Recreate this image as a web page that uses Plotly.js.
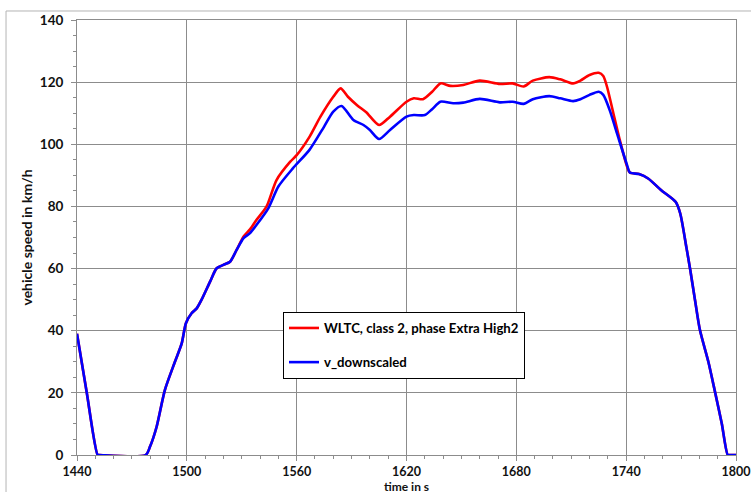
<!DOCTYPE html>
<html>
<head>
<meta charset="utf-8">
<script src="https://cdn.plot.ly/plotly-3.0.1.min.js"></script>
<style>html,body{margin:0;padding:0;background:#fff;}#chart{width:751px;height:492px;}</style>
</head>
<body>
<div id="chart"></div>
<script>
// shared start: end of previous phase, stop, first acceleration (both curves identical)
const timeStart  = [1440, 1445.3, 1451.3, 1452.3, 1477.5, 1479.9, 1483.5, 1488, 1493.5, 1497.2, 1499.5, 1502.6, 1505.4, 1508, 1512.7, 1516.3, 1520, 1523.6, 1527.2];
const speedStart = [39, 20.2, 0, 0, 0, 2.7, 9.1, 20.9, 30, 35.9, 42.4, 45.6, 47.2, 49.9, 55.8, 60.1, 61.2, 62.2, 66];

// WLTC class 2, phase Extra High2 (original)
const timeWltc  = [1531, 1534.5, 1538, 1543.5, 1549, 1556.5, 1560, 1567, 1573, 1580, 1584, 1588, 1593, 1598, 1605, 1611, 1620, 1624, 1629, 1634, 1638.5, 1644, 1651, 1660, 1671, 1678, 1684, 1689, 1698, 1704, 1711, 1715, 1720, 1725, 1727.5, 1729.5, 1733, 1736.5, 1740.5];
const speedWltc = [70.3, 72.6, 75.6, 79.9, 88.5, 94.4, 96.5, 102.4, 108.9, 115.3, 118.0, 115.3, 112.6, 110.3, 106.2, 108.9, 113.7, 114.8, 114.5, 116.9, 119.6, 118.8, 119.1, 120.5, 119.4, 119.6, 118.6, 120.5, 121.6, 120.9, 119.6, 120.5, 122.3, 123.0, 122.0, 118.6, 110.0, 101.4, 92.8];

// v_downscaled
const timeDown  = [1531, 1534.5, 1538, 1544.5, 1550, 1558, 1567, 1575, 1580, 1584.5, 1591, 1596.5, 1600, 1605, 1611, 1620, 1624, 1630, 1634, 1638.5, 1645.5, 1651, 1660, 1671, 1678, 1684, 1689, 1698, 1704, 1711, 1715, 1720, 1725, 1727.5, 1731, 1735, 1740.5];
const speedDown = [69.8, 71.4, 74.0, 79.4, 86.4, 92.3, 98.2, 105.7, 110.5, 112.3, 107.8, 106.2, 104.6, 101.7, 104.6, 108.9, 109.4, 109.4, 111.3, 113.7, 113.2, 113.4, 114.6, 113.5, 113.7, 113.0, 114.5, 115.5, 114.8, 113.9, 114.5, 115.9, 116.9, 115.9, 111.0, 103.5, 93.3];

// shared end: deceleration (both curves identical)
const timeEnd  = [1742, 1747, 1752, 1759, 1767, 1769.5, 1773, 1775, 1777.6, 1780.3, 1784.9, 1788.5, 1792.2, 1795.5, 1796.5, 1800];
const speedEnd = [90.9, 90.4, 89.0, 85.3, 81.5, 77.8, 66.5, 59.6, 49.9, 40.2, 30.0, 20.4, 10.2, 0, 0, 0];

const seriesNames = ['WLTC, class 2, phase Extra High2', 'v_downscaled'];
const xTicks = [1440, 1500, 1560, 1620, 1680, 1740, 1800];
const yTicks = [0, 20, 40, 60, 80, 100, 120, 140];
const xTitle = 'time in s';
const yTitle = 'vehicle speed in km/h';

const gridCol = '#8c8c8c';
const fam = 'Lato, "Open Sans", sans-serif';
const tickFont = {family: fam, size: 13.5, color: '#111', weight: 'bold'};
const xTickFont = {family: fam, size: 12.5, color: '#111', weight: 'bold'};
const titleFont = {family: fam, size: 14, color: '#111', weight: 'bold'};
const xTitleFont = {family: fam, size: 12, color: '#111', weight: 'bold'};
const legendFont = {family: fam, size: 13.2, color: '#000', weight: 'bold'};

const traces = [
  {
    x: timeStart.concat(timeWltc, timeEnd),
    y: speedStart.concat(speedWltc, speedEnd),
    type: 'scatter', mode: 'lines', name: seriesNames[0],
    line: {color: '#ff0000', width: 2.6, shape: 'spline', smoothing: 0.7},
    legendgroup: 'a', cliponaxis: false
  },
  {
    x: timeStart.concat(timeDown, timeEnd),
    y: speedStart.concat(speedDown, speedEnd),
    type: 'scatter', mode: 'lines', name: seriesNames[1],
    line: {color: '#0000ff', width: 2.6, shape: 'spline', smoothing: 0.7},
    legendgroup: 'b', cliponaxis: false
  }
];

const layout = {
  width: 751, height: 492,
  margin: {l: 77, r: 15, t: 20, b: 37, pad: 0},
  paper_bgcolor: '#ffffff', plot_bgcolor: '#ffffff',
  showlegend: true,
  xaxis: {
    range: [1440, 1800], tickmode: 'array', tickvals: xTicks, ticktext: xTicks.map(String),
    showgrid: true, gridcolor: gridCol, gridwidth: 1,
    showline: true, linecolor: gridCol, linewidth: 1, mirror: true, zeroline: false,
    ticks: 'outside', ticklen: 5, tickcolor: gridCol, tickwidth: 1,
    minor: {dtick: 10, tick0: 1440, ticks: 'outside', ticklen: 3, tickcolor: gridCol, showgrid: false},
    tickfont: xTickFont, ticklabelstandoff: 0, ticklabeloverflow: 'allow'
  },
  yaxis: {
    range: [0, 140], tickmode: 'array', tickvals: yTicks, ticktext: yTicks.map(String),
    showgrid: true, gridcolor: gridCol, gridwidth: 1,
    showline: true, linecolor: gridCol, linewidth: 1, mirror: true, zeroline: false,
    ticks: 'outside', ticklen: 5, tickcolor: gridCol, tickwidth: 1,
    minor: {dtick: 5, tick0: 0, ticks: 'outside', ticklen: 3, tickcolor: gridCol, showgrid: false},
    tickfont: tickFont, ticklabelstandoff: 5, ticklabeloverflow: 'allow',
    title: {text: yTitle, font: titleFont, standoff: 3}
  },
  xaxis2: {
    overlaying: 'x', anchor: 'y', side: 'bottom', range: [1440, 1800],
    showgrid: false, showline: false, zeroline: false, showticklabels: false, ticks: '', dtick: 60, tick0: 1440,
    minor: {dtick: 10, tick0: 1440, ticks: 'inside', ticklen: 3, tickcolor: gridCol, showgrid: false}
  },
  yaxis2: {
    overlaying: 'y', anchor: 'x', side: 'left', range: [0, 140],
    showgrid: false, showline: false, zeroline: false, showticklabels: false, ticks: '', dtick: 20, tick0: 0,
    minor: {dtick: 5, tick0: 0, ticks: 'inside', ticklen: 3, tickcolor: gridCol, showgrid: false}
  },
  legend: {
    x: 0.3126, y: 0.329, xanchor: 'left', yanchor: 'top',
    bgcolor: '#ffffff', bordercolor: '#000000', borderwidth: 1,
    font: legendFont, traceorder: 'grouped', tracegroupgap: 14
  },
  annotations: [{
    text: xTitle, xref: 'paper', yref: 'paper', x: 0.5, y: 0,
    xanchor: 'center', yanchor: 'top', yshift: -23, showarrow: false,
    font: xTitleFont, borderpad: 0
  }],
  shapes: [{
    type: 'rect', xref: 'paper', yref: 'paper', layer: 'below',
    x0: -0.1077, x1: 1.2, y0: -0.3, y1: 1.0207,
    line: {color: '#b4b4b4', width: 1}, fillcolor: 'rgba(0,0,0,0)'
  }]
};

Plotly.newPlot('chart', traces, layout, {displayModeBar: false, staticPlot: true});
</script>
</body>
</html>
